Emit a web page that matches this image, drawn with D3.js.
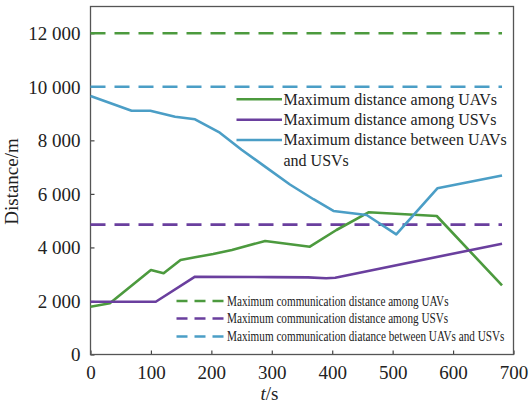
<!DOCTYPE html>
<html>
<head>
<meta charset="utf-8">
<script src="https://cdn.jsdelivr.net/npm/d3@7"></script>
<style>
  body { margin: 0; background: #fff; }
  svg text { font-family: "Liberation Serif", "DejaVu Serif", serif; }
</style>
</head>
<body>
<div id="chart"></div>
<script>
// data
const uavT = [0, 32, 100, 121, 149, 173, 203, 234, 289, 363, 407, 460, 573, 681];
const uavD = [1786, 1912, 3157, 3034, 3530, 3630, 3755, 3904, 4240, 4027, 4651, 5312, 5174, 2580];

const usvT = [0, 108, 173, 300, 360, 390, 405, 681];
const usvD = [1970, 1970, 2907, 2890, 2880, 2846, 2870, 4140];

const betT = [0, 68, 99, 140, 173, 214, 250, 290, 330, 369, 402, 457, 506, 574, 681];
const betD = [9658, 9108, 9108, 8884, 8787, 8287, 7650, 7000, 6350, 5800, 5361, 5212, 4490, 6209, 6690];

const commLimits = [12000, 4850, 10000];
const seriesNames = ["Maximum distance among UAVs", "Maximum distance among USVs", "Maximum distance between UAVs"];
const limitNames = [
    "Maximum communication distance among UAVs",
    "Maximum communication distance among USVs",
    "Maximum communication diatance between UAVs and USVs"
];
const xTicks = [0, 100, 200, 300, 400, 500, 600, 700];
const yTicks = [0, 2000, 4000, 6000, 8000, 10000, 12000];

const colors = ["#4c9a3e", "#6a3f9e", "#4b9ec6"];

const W = 529, H = 404;
const margin = { top: 6.5, right: 15.5, bottom: 49.5, left: 90.5 };
const width = W - margin.left - margin.right;
const height = H - margin.top - margin.bottom;
const serif = "Liberation Serif";

const svg = d3.select("#chart").append("svg")
    .attr("width", W)
    .attr("height", H);

const g = svg.append("g")
    .attr("transform", "translate(" + margin.left + "," + margin.top + ")");

const x = d3.scaleLinear().domain([0, 700]).range([0, width]);
const y = d3.scaleLinear().domain([0, 13000]).range([height, 0]);

const fmt = d => d3.format(",")(d).replace(",", " ");

// axes, ticks pointing inward
const xAxis = d3.axisBottom(x).tickValues(xTicks).tickSizeInner(-4).tickSizeOuter(0).tickPadding(11);
const yAxis = d3.axisLeft(y).tickValues(yTicks).tickFormat(fmt).tickSizeInner(-4).tickSizeOuter(0).tickPadding(10);

const gx = g.append("g")
    .attr("transform", "translate(0," + height + ")")
    .call(xAxis);
const gy = g.append("g").call(yAxis);

[gx, gy].forEach(a => {
    a.attr("font-family", serif).attr("font-size", 19);
    a.select(".domain").remove();
    a.selectAll(".tick line").attr("stroke", "#444").attr("stroke-width", 1.2);
    a.selectAll(".tick text")
        .attr("fill", "#222")
        .style("font-family", serif)
        .style("font-size", "19px");
});
gy.selectAll(".tick text").attr("dy", "0.34em");
gx.selectAll(".tick text").attr("dy", "0.71em");

// frame
g.append("rect")
    .attr("width", width)
    .attr("height", height)
    .attr("fill", "none")
    .attr("stroke", "#555")
    .attr("stroke-width", 1.3);

// axis labels
svg.append("text")
    .attr("transform", "translate(14," + (margin.top + y(6500) + 1) + ") rotate(-90)")
    .attr("text-anchor", "middle")
    .attr("dominant-baseline", "middle")
    .style("font-family", serif)
    .attr("font-size", 19)
    .attr("fill", "#222")
    .text("Distance/m");

const xl = svg.append("text")
    .attr("x", margin.left + x(296))
    .attr("y", 400)
    .attr("text-anchor", "middle")
    .style("font-family", serif)
    .attr("font-size", 19)
    .attr("fill", "#222");
xl.append("tspan").attr("font-style", "italic").text("t");
xl.append("tspan").text("/s");

// dashed limit lines
g.selectAll(".limit")
    .data(commLimits)
    .enter()
    .append("line")
    .attr("class", "limit")
    .attr("x1", x(0)).attr("x2", x(681))
    .attr("y1", d => y(d)).attr("y2", d => y(d))
    .attr("stroke", (d, i) => colors[i])
    .attr("stroke-width", 2.6)
    .attr("stroke-dasharray", "15,9");

// series lines
const series = [
    uavT.map((t, i) => ({ t: t, d: uavD[i] })),
    usvT.map((t, i) => ({ t: t, d: usvD[i] })),
    betT.map((t, i) => ({ t: t, d: betD[i] }))
];

const line = d3.line()
    .x(d => x(d.t))
    .y(d => y(d.d))
    .curve(d3.curveLinear);

g.selectAll(".series")
    .data(series)
    .enter()
    .append("path")
    .attr("class", "series")
    .attr("fill", "none")
    .attr("stroke", (d, i) => colors[i])
    .attr("stroke-width", 2.6)
    .attr("stroke-linejoin", "round")
    .attr("d", d => line(d));

// top legend
const legRows = [99.3, 119.7, 140];
const leg = svg.append("g");
seriesNames.forEach((name, i) => {
    leg.append("line")
        .attr("x1", 236.5).attr("x2", 282)
        .attr("y1", legRows[i]).attr("y2", legRows[i])
        .attr("stroke", colors[i])
        .attr("stroke-width", 2.6);
    leg.append("text")
        .attr("x", 283.5)
        .attr("y", legRows[i])
        .attr("dy", "0.33em")
        .attr("font-size", 16)
        .attr("fill", "#222")
        .text(name);
});
leg.append("text")
    .attr("x", 283.5)
    .attr("y", 161)
    .attr("dy", "0.33em")
    .attr("font-size", 16)
    .attr("fill", "#222")
    .text("and USVs");

// bottom legend
const botRows = [301, 318.5, 336.5];
const bot = svg.append("g");
limitNames.forEach((name, i) => {
    bot.append("line")
        .attr("x1", 176.5).attr("x2", 223.5)
        .attr("y1", botRows[i]).attr("y2", botRows[i])
        .attr("stroke", colors[i])
        .attr("stroke-width", 2.4)
        .attr("stroke-dasharray", "11,7");
    bot.append("text")
        .attr("transform", "translate(227," + botRows[i] + ") scale(0.8,1)")
        .attr("dy", "0.33em")
        .attr("font-size", 14)
        .attr("fill", "#222")
        .text(name);
});
</script>
</body>
</html>
